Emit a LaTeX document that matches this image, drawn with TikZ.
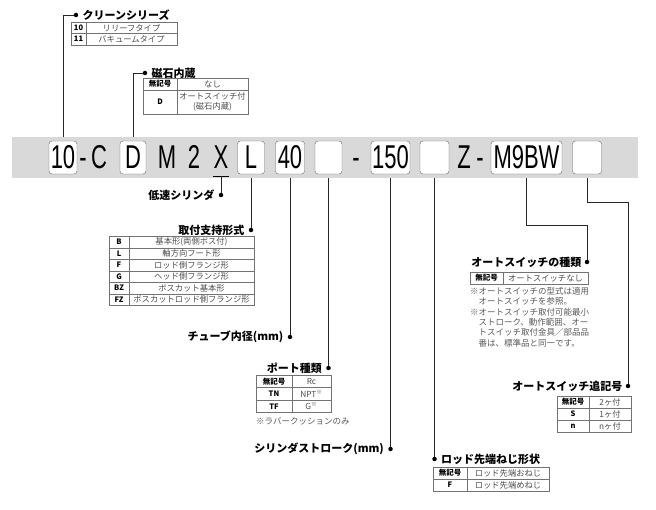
\documentclass[tikz,border=0pt]{standalone}
\usepackage{fontspec}
\setmainfont{Noto Sans CJK JP}
\newfontfamily\bandfont{Liberation Sans}
\usetikzlibrary{positioning}
\newcommand{\tall}[1]{\scalebox{1}[1.5]{\vphantom{0}#1}}

\begin{document}
\begin{tikzpicture}[x=1pt,y=-1pt,
    lead/.style={draw=black!85,line width=0.9pt},
    dot/.style={circle,fill=black,inner sep=0pt,minimum size=4.5pt},
    title/.style={inner sep=0pt,font=\bfseries\fontsize{11}{13}\selectfont},
    tag/.style={draw=black!60,fill=white,rounded corners=3pt,minimum height=33pt,inner sep=0pt,font=\bandfont\fontsize{22}{22}\selectfont},
    loose/.style={minimum height=33pt,inner sep=0pt,font=\bandfont\fontsize{22}{22}\selectfont},
    key/.style={draw=black!55,inner sep=0pt,font=\bfseries\fontsize{7.5}{8}\selectfont},
    val/.style={draw=black!55,inner sep=0pt,text=black!70,align=center,font=\fontsize{8.3}{10}\selectfont},
    note/.style={inner sep=0pt,text=black!65,align=left,font=\fontsize{8.5}{10.4}\selectfont}]
    \useasboundingbox (0,0) rectangle (656,510);

    % model code band
    \node[fill=black!15,minimum width=626pt,minimum height=41pt,inner sep=0pt] (band) at (325,157.5) {};
    \node[tag,minimum width=28pt] (b10) at (63,157.5) {\tall{10}};
    \node[loose] (h1) at (83,157.5) {\tall{-}};
    \node[loose] (nC) at (99,157.5) {\tall{C}};
    \node[tag,minimum width=26pt] (bD) at (133,157.5) {\tall{D}};
    \node[loose] (nM) at (167,157.5) {\tall{M}};
    \node[loose] (n2) at (194,157.5) {\tall{2}};
    \node[loose] (nX) at (221,157.5) {\tall{X}};
    \node[tag,minimum width=27pt] (bL) at (251,157.5) {\tall{L}};
    \node[tag,minimum width=29pt] (b40) at (290,157.5) {\tall{40}};
    \node[tag,minimum width=27pt] (bE1) at (328.5,157.5) {};
    \node[loose] (h2) at (356,157.5) {\tall{-}};
    \node[tag,minimum width=39pt] (b150) at (390.5,157.5) {\tall{150}};
    \node[tag,minimum width=29pt] (bE2) at (434.5,157.5) {};
    \node[loose] (nZ) at (464,157.5) {\tall{Z}};
    \node[loose] (h3) at (480,157.5) {\tall{-}};
    \node[tag,minimum width=71pt] (bM) at (526.5,157.5) {\tall{M9BW}};
    \node[tag,minimum width=29pt] (bE3) at (587,157.5) {};
    \draw[line width=0.9pt] ([yshift=-2pt]nX.south west) -- ([yshift=-2pt]nX.south east);

    % dots
    \node[dot] (d1) at (76,15) {};
    \node[dot] (d2) at (145,73) {};
    \node[dot] (d3) at (221,195) {};
    \node[dot] (d4) at (251,230) {};
    \node[dot] (d5) at (290,337) {};
    \node[dot] (d6) at (328.5,368) {};
    \node[dot] (d7) at (390.5,449) {};
    \node[dot] (d8) at (434.5,459) {};
    \node[dot] (d9) at (587,262) {};
    \node[dot] (d10) at (628,386) {};
    \coordinate (t9) at (0,225);
    \coordinate (t10) at (0,202);

    % titles
    \node[title,right=4pt of d1] (n1) {クリーンシリーズ};
    \node[title,right=4pt of d2] (n2t) {磁石内蔵};
    \node[title,left=4pt of d3] (n3) {低速シリンダ};
    \node[title,left=4pt of d4] (n4) {取付支持形式};
    \node[title,left=4pt of d5] (n5) {チューブ内径(mm)};
    \node[title,left=4pt of d6] (n6) {ポート種類};
    \node[title,left=4pt of d7] (n7) {シリンダストローク(mm)};
    \node[title,right=4pt of d8] (n8) {ロッド先端ねじ形状};
    \node[title,left=3pt of d9] (n9) {オートスイッチの種類};
    \node[title,left=3pt of d10] (n10) {オートスイッチ追記号};

    % leads
    \draw[lead] (b10 |- band.north) |- (d1);
    \draw[lead] (bD |- band.north) |- (d2);
    \draw[lead] ([yshift=-2pt]nX.south) -- (d3);
    \draw[lead] (bL |- band.south) -- (d4);
    \draw[lead] (b40 |- band.south) -- (d5);
    \draw[lead] (bE1 |- band.south) -- (d6);
    \draw[lead] (b150 |- band.south) -- (d7);
    \draw[lead] (bE2 |- band.south) -- (d8);
    \draw[lead] (bM |- band.south) -- (bM |- t9) -| (d9);
    \draw[lead] (bE3 |- band.south) -- (bE3 |- t10) -| (d10);

    % clean series
    \node[key,minimum width=15pt,minimum height=11.5pt] (t1k1) at (78.5,27.75) {10};
    \node[val,minimum width=91pt,minimum height=11.5pt] (t1v1) at (131.5,27.75) {リリーフタイプ};
    \node[key,minimum width=15pt,minimum height=11.5pt] (t1k2) at (78.5,39.25) {11};
    \node[val,minimum width=91pt,minimum height=11.5pt] (t1v2) at (131.5,39.25) {バキュームタイプ};

    % magnet
    \node[key,minimum width=34pt,minimum height=12pt] (t2k1) at (160,84) {無記号};
    \node[val,minimum width=71pt,minimum height=12pt] (t2v1) at (212.5,84) {なし};
    \node[key,minimum width=34pt,minimum height=24pt] (t2k2) at (160,102) {D};
    \node[val,minimum width=71pt,minimum height=24pt] (t2v2) at (212.5,102) {オートスイッチ付\\(磁石内蔵)};

    % mounting
    \foreach \k/\v [count=\i] in {B/基本形(両側ボス付),L/軸方向フート形,F/ロッド側フランジ形,G/ヘッド側フランジ形,BZ/ボスカット基本形,FZ/ボスカットロッド側フランジ形}{
        \node[key,minimum width=20pt,minimum height=11.5pt] (t3k\i) at (119,230.5+11.5*\i) {\k};
        \node[val,minimum width=125pt,minimum height=11.5pt] (t3v\i) at (191.5,230.5+11.5*\i) {\v};
    }

    % port
    \node[key,minimum width=36pt,minimum height=12.5pt] (t4k1) at (274,381.25) {無記号};
    \node[val,minimum width=39pt,minimum height=12.5pt] (t4v1) at (311.5,381.25) {Rc};
    \node[key,minimum width=36pt,minimum height=12.5pt] (t4k2) at (274,393.75) {TN};
    \node[val,minimum width=39pt,minimum height=12.5pt] (t4v2) at (311.5,393.75) {NPT\textsuperscript{※}};
    \node[key,minimum width=36pt,minimum height=12.5pt] (t4k3) at (274,406.25) {TF};
    \node[val,minimum width=39pt,minimum height=12.5pt] (t4v3) at (311.5,406.25) {G\textsuperscript{※}};
    \node[note,anchor=west] (nt4) at (256,421) {※ラバークッションのみ};

    % rod end
    \node[key,minimum width=34pt,minimum height=12pt] (t5k1) at (450,473) {無記号};
    \node[val,minimum width=82pt,minimum height=12pt] (t5v1) at (508,473) {ロッド先端おねじ};
    \node[key,minimum width=34pt,minimum height=12pt] (t5k2) at (450,485) {F};
    \node[val,minimum width=82pt,minimum height=12pt] (t5v2) at (508,485) {ロッド先端めねじ};

    % auto switch
    \node[key,minimum width=33pt,minimum height=12pt] (t6k1) at (486.5,278) {無記号};
    \node[val,minimum width=85pt,minimum height=12pt] (t6v1) at (545.5,278) {オートスイッチなし};
    \node[note,anchor=north west] (nt6) at (470,287) {※オートスイッチの型式は適用\\\phantom{※}オートスイッチを参照。\\※オートスイッチ取付可能最小\\\phantom{※}ストローク、動作範囲、オー\\\phantom{※}トスイッチ取付金具／部品品\\\phantom{※}番は、標準品と同一です。};

    % number of switches
    \node[key,minimum width=32pt,minimum height=12pt] (t7k1) at (573,402) {無記号};
    \node[val,minimum width=42pt,minimum height=12pt] (t7v1) at (610,402) {2ヶ付};
    \node[key,minimum width=32pt,minimum height=12pt] (t7k2) at (573,414) {S};
    \node[val,minimum width=42pt,minimum height=12pt] (t7v2) at (610,414) {1ヶ付};
    \node[key,minimum width=32pt,minimum height=12pt] (t7k3) at (573,426) {n};
    \node[val,minimum width=42pt,minimum height=12pt] (t7v3) at (610,426) {nヶ付};
\end{tikzpicture}
\end{document}
